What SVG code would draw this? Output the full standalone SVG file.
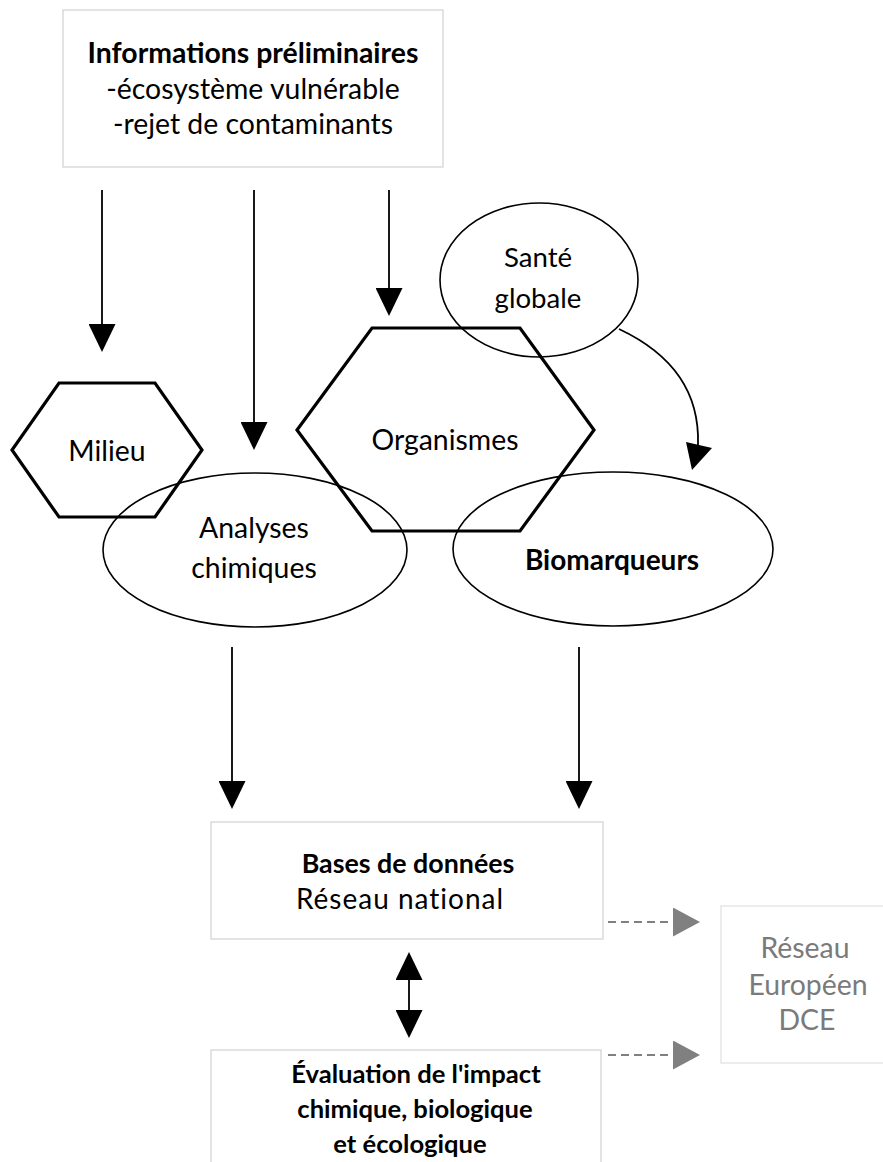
<svg xmlns="http://www.w3.org/2000/svg" width="883" height="1162" viewBox="0 0 883 1162">
<defs>
<style>
.t{font-family:Lato,"Open Sans","Liberation Sans",sans-serif;font-size:28.4px;fill:#000;text-anchor:middle}
.b{font-weight:bold}
.g{fill:#7a7a7a}
.box{fill:#fff;stroke:#d4d4d4;stroke-width:1.3}
.hex{fill:none;stroke:#000;stroke-width:3.2;stroke-linejoin:miter}
.ell{fill:none;stroke:#000;stroke-width:1.6}
.ln{fill:none;stroke:#000;stroke-width:1.8}
.dash{fill:none;stroke:#808080;stroke-width:2;stroke-dasharray:8 5}
</style>
<marker id="ah" viewBox="0 0 28 27" refX="0" refY="13.5" markerWidth="28" markerHeight="27" markerUnits="userSpaceOnUse" orient="auto-start-reverse"><path d="M0,0 L28,13.5 L0,27 Z" fill="#000"/></marker>
<marker id="ahg" viewBox="0 0 27 29" refX="0" refY="14.5" markerWidth="27" markerHeight="29" markerUnits="userSpaceOnUse" orient="auto"><path d="M0,0 L27,14.5 L0,29 Z" fill="#808080"/></marker>
</defs>
<rect width="883" height="1162" fill="#fff"/>

<g id="info">
<rect class="box" x="63" y="10" width="380" height="157"/>
<text class="t b" x="253" y="63">Informations préliminaires</text>
<text class="t" x="253" y="99">-écosystème vulnérable</text>
<text class="t" x="253" y="134">-rejet de contaminants</text>
</g>

<g id="milieu">
<polygon class="hex" points="59,383 155,383 202,450 155,517 59,517 12,450"/>
<text class="t" x="107" y="461">Milieu</text>
</g>

<g id="organismes">
<polygon class="hex" points="372,328 520,328 594,430 520,531 372,531 297,430"/>
<text class="t" x="445" y="450">Organismes</text>
</g>

<g id="sante">
<ellipse class="ell" cx="539" cy="280" rx="99" ry="77"/>
<text class="t" x="538" y="267" style="font-size:27.6px">Santé</text>
<text class="t" x="538" y="308" style="font-size:27.6px">globale</text>
</g>

<g id="analyses">
<ellipse class="ell" cx="255" cy="550" rx="152" ry="77"/>
<text class="t" x="254" y="538">Analyses</text>
<text class="t" x="254" y="578">chimiques</text>
</g>

<g id="biomarqueurs">
<ellipse class="ell" cx="613" cy="549" rx="160" ry="77"/>
<text class="t b" x="612" y="570" style="font-size:28px">Biomarqueurs</text>
</g>

<g id="bases">
<rect class="box" x="211" y="822" width="392" height="117"/>
<text class="t b" x="408" y="873" style="font-size:26.8px">Bases de données</text>
<text class="t" x="400" y="909" style="font-size:28px;letter-spacing:1px">Réseau national</text>
</g>

<g id="evaluation">
<rect class="box" x="211" y="1050" width="390" height="130"/>
<text class="t b" x="416" y="1083" style="font-size:25.6px">Évaluation de l'impact</text>
<text class="t b" x="415" y="1118" style="font-size:25.6px">chimique, biologique</text>
<text class="t b" x="410" y="1153" style="font-size:25.6px">et écologique</text>
</g>

<g id="europeen">
<rect x="721" y="906" width="180" height="157" fill="#fff" stroke="#e2e2e2" stroke-width="1.3"/>
<text class="t g" x="805" y="958">Réseau</text>
<text class="t g" x="808" y="995">Européen</text>
<text class="t g" x="807" y="1030">DCE</text>
</g>

<g id="connectors">
<line class="ln" x1="102" y1="190" x2="102" y2="324" marker-end="url(#ah)"/>
<line class="ln" x1="254" y1="190" x2="254" y2="422" marker-end="url(#ah)"/>
<line class="ln" x1="389" y1="190" x2="389" y2="288" marker-end="url(#ah)"/>
<path class="ln" d="M619,329 C668,352 700,388 698,445"/>
<polygon points="686,442 712,448 692,470" fill="#000"/>
<line class="ln" x1="232" y1="647" x2="232" y2="781" marker-end="url(#ah)"/>
<line class="ln" x1="579" y1="647" x2="579" y2="781" marker-end="url(#ah)"/>
<line class="ln" x1="409" y1="980" x2="409" y2="1010" marker-start="url(#ah)" marker-end="url(#ah)"/>
<line class="dash" x1="608" y1="922" x2="673" y2="922" marker-end="url(#ahg)"/>
<line class="dash" x1="608" y1="1055" x2="673" y2="1055" marker-end="url(#ahg)"/>
</g>
</svg>
